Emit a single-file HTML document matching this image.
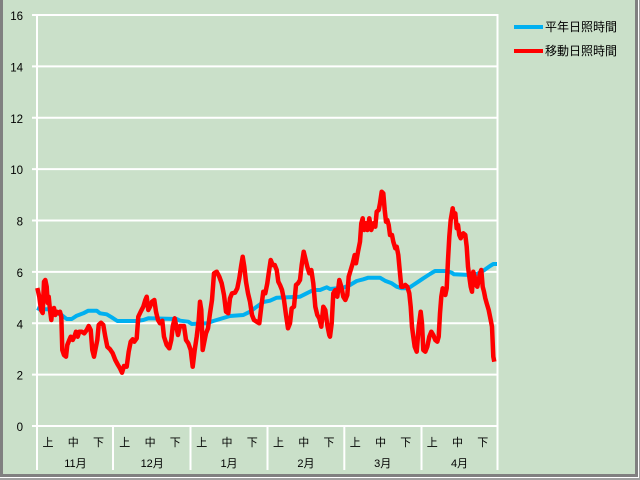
<!DOCTYPE html>
<html><head><meta charset="utf-8"><style>
html,body{margin:0;padding:0;background:#CAE0C9;}
svg{display:block;}
text{font-family:"Liberation Sans","Noto Sans CJK JP",sans-serif;fill:#000;}
</style></head><body>
<svg width="640" height="480" viewBox="0 0 640 480" xmlns="http://www.w3.org/2000/svg">
<rect x="0" y="0" width="640" height="480" fill="#CAE0C9"/>
<!-- frame -->
<rect x="0" y="0" width="3" height="480" fill="#808080"/>
<rect x="635" y="0" width="3" height="477" fill="#808080"/>
<rect x="638" y="0" width="1" height="480" fill="#ffffff"/>
<rect x="639" y="0" width="1" height="480" fill="#a0a0a0"/>
<rect x="0" y="474" width="638" height="3" fill="#808080"/>
<rect x="0" y="477" width="639" height="1" fill="#ffffff"/>
<rect x="0" y="478" width="640" height="2" fill="#a0a0a0"/>

<!-- gridlines -->
<g stroke="#ffffff" stroke-width="2">
<line x1="32" y1="15" x2="498" y2="15"/>
<line x1="32" y1="66.4" x2="498" y2="66.4"/>
<line x1="32" y1="117.75" x2="498" y2="117.75"/>
<line x1="32" y1="169.1" x2="498" y2="169.1"/>
<line x1="32" y1="220.5" x2="498" y2="220.5"/>
<line x1="32" y1="271.9" x2="498" y2="271.9"/>
<line x1="32" y1="323.25" x2="498" y2="323.25"/>
<line x1="32" y1="374.6" x2="498" y2="374.6"/>
<line x1="32" y1="426" x2="498" y2="426"/>
<line x1="37" y1="14" x2="37" y2="470"/>
<line x1="497.5" y1="14" x2="497.5" y2="470"/>
<line x1="113" y1="426" x2="113" y2="470"/>
<line x1="190.5" y1="426" x2="190.5" y2="470"/>
<line x1="267.5" y1="426" x2="267.5" y2="470"/>
<line x1="344.3" y1="426" x2="344.3" y2="470"/>
<line x1="421.5" y1="426" x2="421.5" y2="470"/>
</g>

<!-- y labels -->
<g font-size="11.5" text-anchor="end">
<text x="23" y="20">16</text>
<text x="23" y="71.4">14</text>
<text x="23" y="122.8">12</text>
<text x="23" y="174.1">10</text>
<text x="23" y="225.5">8</text>
<text x="23" y="276.9">6</text>
<text x="23" y="328.3">4</text>
<text x="23" y="379.6">2</text>
<text x="23" y="431">0</text>
</g>

<!-- dekad labels -->
<g font-size="11" text-anchor="middle">
<text x="48" y="446">上</text><text x="73.3" y="446">中</text><text x="98.5" y="446">下</text>
<text x="124.8" y="446">上</text><text x="150.1" y="446">中</text><text x="175.3" y="446">下</text>
<text x="201.7" y="446">上</text><text x="227" y="446">中</text><text x="252.2" y="446">下</text>
<text x="278.5" y="446">上</text><text x="303.8" y="446">中</text><text x="329" y="446">下</text>
<text x="355.3" y="446">上</text><text x="380.6" y="446">中</text><text x="405.8" y="446">下</text>
<text x="432.2" y="446">上</text><text x="457.5" y="446">中</text><text x="482.7" y="446">下</text>
</g>
<g font-size="11" text-anchor="middle">
<text x="75.4" y="467">11月</text>
<text x="152.2" y="467">12月</text>
<text x="229" y="467">1月</text>
<text x="305.9" y="467">2月</text>
<text x="382.7" y="467">3月</text>
<text x="459.5" y="467">4月</text>
</g>

<!-- blue series -->
<polyline fill="none" stroke="#00B0F0" stroke-width="4" stroke-linejoin="round" points="
37,308 40,309.3 48.3,309.3 53.3,311.7 61.7,315 66.7,319 71.7,319 76.7,315.7 83.3,313.3 88.3,310.7 96.7,310.7 100,313.3 106.7,314.3 111.7,317.3 117.3,321 136.7,321 143.3,320 148.3,318.3 176.7,319
180,320.7 188.3,321.7 191.7,324 206.7,323.3 213.3,321 220,319 230,316 243.3,315 250,311.7 256.7,306.7 263.3,302 270,300.7 276.7,297.7 300,296.7 306.7,293.3 313.3,290 320,290 326.7,287.3
330,289 343.3,287.7 350,285 356.7,281 363.3,279.3 368.3,277.7 380,277.7 385,280.7 391.7,283.3 396.7,286.7 401.7,288.3 408.3,288.3 413.3,285 418.3,281.7 423.3,278.3 430,274 435,271 446.7,271 451.7,272.7 454,274.3 470,275 476.7,274 483.3,270.7 490,266 493.3,264 497,264"/>

<!-- red series -->
<polyline fill="none" stroke="#FF0000" stroke-width="4.5" stroke-linejoin="round" points="
37.3,288 39.3,296.7 41,310 42.7,313 44,281.7 45.3,280 46.7,286.7 47.7,303 48.7,296.7 50,310 51.3,320 52.3,310 54,308 55.3,315 56.7,311.7 58.7,313 60,311.7 61.3,316.7 62.3,350 64,355 66,356.7 67.3,345 69.3,340 70.7,336.7 72.7,340 74.3,336.7 76,331.7 77.7,336.7 79.3,331.7 81.7,331.7 84.3,333.3 86.7,330 88.7,326 90.7,330 92.3,350 94,356.7 95.7,348 97.3,340 98.7,325 101,322.7 103.3,325 105.3,336.7 107.3,346.7 110,349.3 112.7,353.3 115.3,360 118,365 120,368.3 122,372.7 124,366 126.7,366.7 128.7,351.7 130.7,341.7 132.7,339.3 134.3,341.7 136.7,338.3 138.3,316.7 140.7,311.7 143.3,306.7 145.3,300 146.7,296.7 148.3,310 150,306.7 152,301.7 154.3,300 156,311.7 158,320 160,323.3 162.3,320.7 164,336.7 166.7,345 169.3,348.3 171.3,340 172.7,326.7 174.7,318.3 176,325 178,335
180,326 184,326 186,340 188.3,343.3 190.7,350 192.7,366.7 194.7,350 196.7,336.7 198.7,320 200,301.7 201.3,310 202.7,350 204,343.3 206,333.3 208,328.3 210,313.3 212,300 214,273.3 216.7,271.7 219.3,276.7 221.7,283.3 224,295 226,311.7 228.3,313.3 230,298.3 232,293.3 235,292.7 237.3,288.3 239.3,278.3 241.3,265 242.7,256.7 244.3,266.7 246,281.7 248,293.3 250,301.7 252,315 254,320 256.7,321.7 259.3,323.3 261.3,306.7 263.3,291.7 265.3,293.3 267.3,283.3 268.7,273.3 270.7,260 272.7,265 274.7,265 276.7,270 278.3,281.7 280,285 282,290 284,300 286,315 288,328.3 290,323.3 291.7,308.3 294,306.7 296,285 298,283.3 300,280 301.7,265 303.7,251.7 305.3,258.3 307.3,266.7 309.3,273.3 311.3,270 313.3,283.3 315.3,306.7 317.3,315 319.3,318.3 321.3,326.7 323.3,306.7 325.3,310 327.3,325 329.3,335
330,336.7 331.7,323.3 333.3,293.3 335.3,290 337.3,296.7 339.3,280 341.3,286.7 343.3,296.7 345.3,300 347.3,295 348.7,276.7 350.7,270 352.7,263.3 354.7,255 356,263.3 358,251.7 360,241.7 361.3,223.3 362.7,218.3 364.3,230 366,223.3 367.3,230 369.3,218.3 371.3,230 373.3,223.3 375.3,226.7 376.7,211.7 378.7,210 380,203.3 381.7,191.7 383.3,193.3 384.7,210 386,221.7 387.3,220 388.7,225 390,235 392,235 393.3,241.7 395.3,248.3 396.7,246.7 398.3,255 400,273.3 401.3,286.7 403.3,286.7 405.3,285 407.3,286.7 409.3,293.3 410.7,306.7 412,326.7 413.3,336.7 414.7,346.7 416.7,351.7 418.7,326.7 420.7,311.7 422,323.3 423.3,350 425.3,351.7 427.3,346.7 429.3,336.7 431.3,331.7 433.3,335 435.3,340 437.3,341.7 438.7,336.7 440,313.3 441.3,296.7 442.7,288.3 444,293.3 445.3,295 446.7,288.3 448,260 449.3,236.7 450.7,220 452.7,208.3 454,216.7 455.3,213.3 456.7,228.3 458,225 459.3,235 460.7,238.3 462,235 463.3,233.3 465.3,235 466.7,246.7 468,266.7 469.3,276.7 470.7,286.7 472,291.7 473.3,271.7 474.7,276.7 476,285 477.3,286.7 478.7,280 480,273.3 481.3,270 482.7,286.7 484,291.7 485.3,298.3 486.7,303.3 488.7,310 490.7,320 492,326.7 493.3,356.7 494.3,361.7"/>

<!-- legend -->
<line x1="514" y1="27" x2="543" y2="27" stroke="#00B0F0" stroke-width="4"/>
<line x1="514" y1="51" x2="543" y2="51" stroke="#FF0000" stroke-width="4"/>
<g font-size="12">
<text x="545" y="31">平年日照時間</text>
<text x="545" y="55">移動日照時間</text>
</g>
</svg>
</body></html>
